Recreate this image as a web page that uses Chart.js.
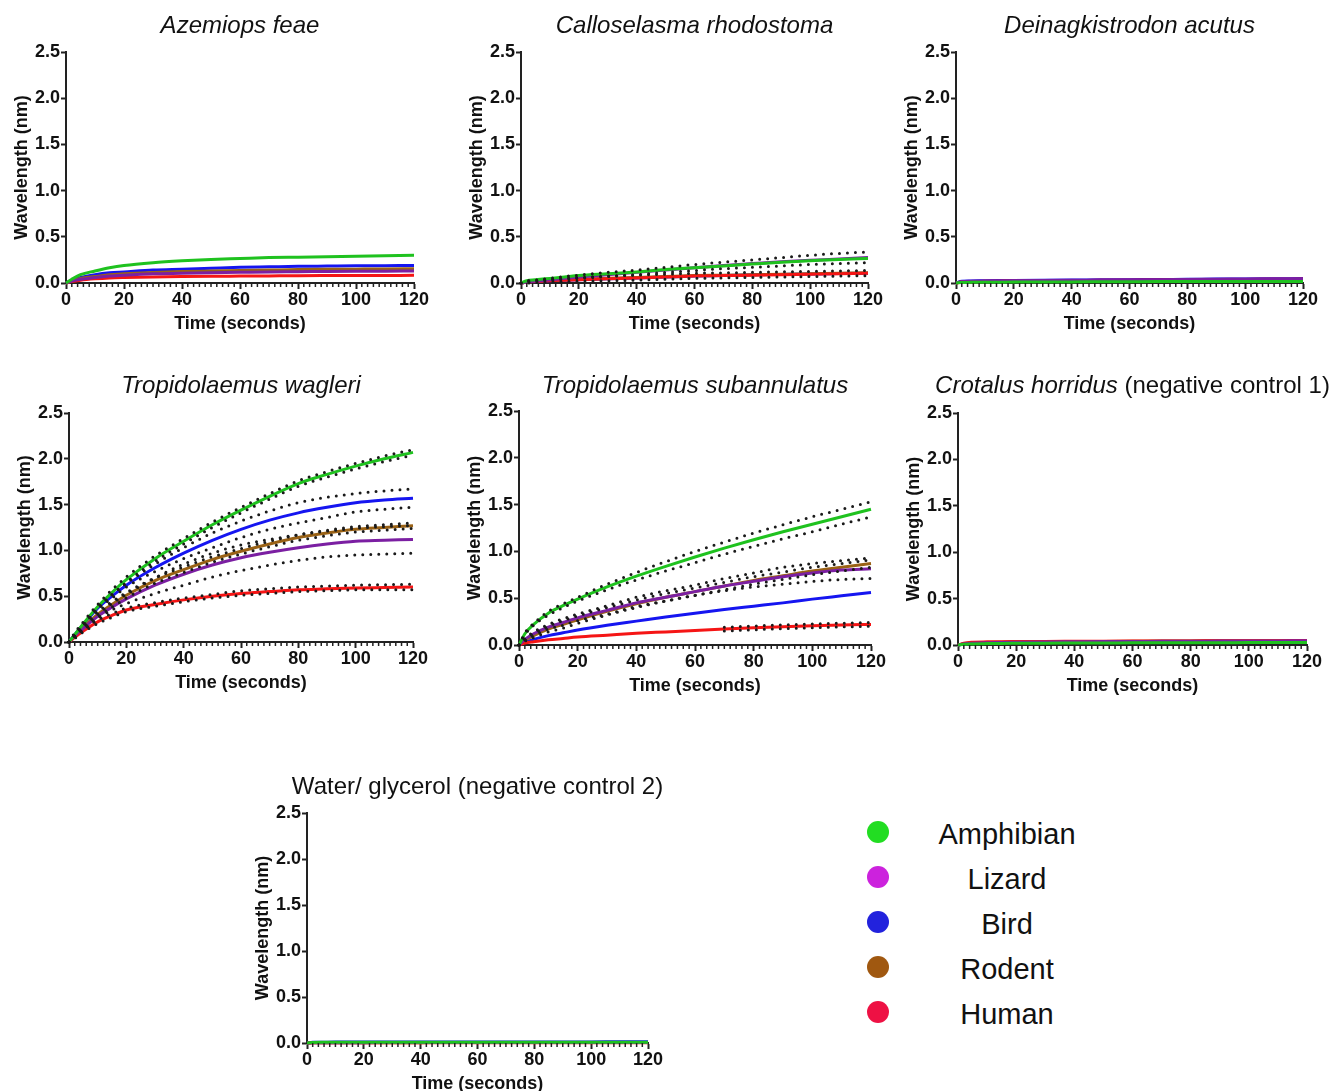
<!DOCTYPE html>
<html><head><meta charset="utf-8">
<script src="https://cdn.jsdelivr.net/npm/chart.js@4.4.1/dist/chart.umd.min.js"></script>
<style>
html,body{margin:0;padding:0;overflow:hidden;background:#fff;width:1331px;height:1091px;}
canvas{position:absolute;}
.lgText{position:absolute;width:200px;text-align:center;font:29px 'Liberation Sans',Arial,sans-serif;line-height:29px;color:#111;}
.lgDot{position:absolute;width:22px;height:22px;border-radius:50%;}
</style></head><body>
<script>
// ---------- data ----------
const time = [0, 2, 5, 10, 15, 20, 30, 40, 50, 60, 70, 80, 90, 100, 110, 120];
const xTicks = [0, 20, 40, 60, 80, 100, 120];
const yTicks = [0, 0.5, 1.0, 1.5, 2.0, 2.5];
const seriesNames = ['Amphibian', 'Lizard', 'Bird', 'Rodent', 'Human'];

// Azemiops feae
const azemAmphibian = [0,0.04,0.09,0.13,0.165,0.19,0.22,0.24,0.255,0.265,0.275,0.28,0.285,0.29,0.295,0.30];
const azemLizard    = [0,0.02,0.04,0.06,0.075,0.085,0.10,0.105,0.11,0.115,0.12,0.122,0.125,0.127,0.128,0.13];
const azemBird      = [0,0.03,0.06,0.09,0.11,0.12,0.14,0.15,0.16,0.17,0.175,0.18,0.183,0.186,0.188,0.19];
const azemRodent    = [0,0.02,0.05,0.07,0.09,0.10,0.115,0.125,0.13,0.135,0.14,0.145,0.148,0.15,0.152,0.155];
const azemHuman     = [0,0.015,0.03,0.045,0.055,0.06,0.066,0.07,0.073,0.075,0.077,0.079,0.08,0.081,0.082,0.083];

// Calloselasma rhodostoma
const callAmphibian = [0,0.025,0.035,0.05,0.065,0.08,0.10,0.12,0.145,0.165,0.185,0.205,0.225,0.24,0.255,0.265];
const callLizard    = [0,0.01,0.02,0.035,0.05,0.065,0.09,0.115,0.14,0.165,0.19,0.21,0.23,0.245,0.26,0.275];
const callBird      = [0,0.01,0.015,0.025,0.03,0.035,0.045,0.055,0.065,0.075,0.08,0.088,0.093,0.098,0.102,0.106];
const callRodent    = [0,0.01,0.02,0.03,0.035,0.04,0.05,0.06,0.07,0.08,0.085,0.09,0.095,0.10,0.105,0.11];
const callHuman     = [0,0.01,0.015,0.025,0.03,0.035,0.045,0.055,0.065,0.075,0.08,0.085,0.09,0.095,0.10,0.105];
const callHighUpper = [0,0.02,0.03,0.05,0.07,0.085,0.115,0.14,0.17,0.20,0.225,0.25,0.275,0.30,0.32,0.335];
const callHighLower = [0,0.01,0.02,0.03,0.04,0.05,0.07,0.09,0.115,0.135,0.155,0.17,0.185,0.20,0.21,0.22];
const callLowUpper  = [0,0.02,0.03,0.04,0.05,0.06,0.075,0.085,0.095,0.105,0.11,0.115,0.12,0.125,0.13,0.135];
const callLowLower  = [0,0.0,0.005,0.01,0.015,0.02,0.025,0.03,0.04,0.05,0.055,0.06,0.065,0.07,0.075,0.08];

// Deinagkistrodon acutus
const deinAmphibian = [0,0.005,0.007,0.008,0.009,0.01,0.011,0.012,0.013,0.014,0.015,0.015,0.016,0.016,0.017,0.017];
const deinLizard    = [0,0.015,0.02,0.022,0.024,0.026,0.028,0.03,0.032,0.034,0.036,0.039,0.041,0.043,0.045,0.047];
const deinBird      = [0,0.02,0.022,0.025,0.027,0.028,0.03,0.032,0.034,0.036,0.038,0.04,0.042,0.044,0.046,0.048];
const deinRodent    = [0,0.01,0.012,0.015,0.017,0.019,0.021,0.023,0.025,0.026,0.027,0.028,0.03,0.031,0.032,0.033];
const deinHuman     = [0,0.01,0.015,0.018,0.02,0.022,0.025,0.027,0.029,0.031,0.033,0.035,0.037,0.039,0.04,0.042];

// Tropidolaemus wagleri
const wagAmphibian = [0,0.08,0.20,0.385,0.54,0.68,0.91,1.10,1.28,1.44,1.59,1.73,1.83,1.92,2.00,2.07];
const wagLizard    = [0,0.07,0.15,0.28,0.38,0.47,0.62,0.74,0.84,0.92,0.98,1.03,1.07,1.10,1.11,1.12];
const wagBird      = [0,0.08,0.19,0.37,0.50,0.62,0.81,0.97,1.11,1.23,1.33,1.41,1.47,1.52,1.55,1.57];
const wagRodent    = [0,0.07,0.16,0.30,0.41,0.51,0.67,0.79,0.90,0.99,1.07,1.14,1.19,1.23,1.25,1.27];
const wagHuman     = [0,0.05,0.12,0.22,0.29,0.35,0.41,0.46,0.50,0.53,0.55,0.57,0.58,0.59,0.595,0.60];
const wagAmphibianUpper = [0,0.10,0.22,0.41,0.57,0.71,0.94,1.13,1.31,1.47,1.62,1.76,1.86,1.95,2.03,2.10];
const wagAmphibianLower = [0,0.06,0.18,0.36,0.51,0.65,0.88,1.07,1.25,1.41,1.56,1.70,1.80,1.89,1.97,2.04];
const wagBirdUpper = [0,0.08,0.19,0.38,0.52,0.64,0.85,1.03,1.19,1.32,1.43,1.52,1.58,1.62,1.65,1.67];
const wagBirdLower = [0,0.08,0.19,0.36,0.48,0.60,0.77,0.91,1.03,1.14,1.23,1.30,1.36,1.42,1.45,1.47];
const wagRodentUpper = [0,0.08,0.18,0.33,0.44,0.54,0.70,0.82,0.93,1.02,1.10,1.17,1.22,1.26,1.28,1.30];
const wagRodentLower = [0,0.06,0.14,0.27,0.38,0.48,0.64,0.76,0.87,0.96,1.04,1.11,1.16,1.20,1.22,1.24];
const wagLizardUpper = [0,0.07,0.16,0.30,0.42,0.52,0.70,0.85,0.97,1.06,1.12,1.17,1.21,1.24,1.26,1.27];
const wagLizardLower = [0,0.07,0.14,0.26,0.35,0.42,0.53,0.62,0.71,0.78,0.84,0.89,0.93,0.95,0.96,0.97];
const wagHumanUpper = [0,0.06,0.13,0.24,0.31,0.37,0.43,0.48,0.52,0.56,0.58,0.60,0.61,0.62,0.625,0.63];
const wagHumanLower = [0,0.04,0.11,0.20,0.27,0.33,0.39,0.44,0.48,0.51,0.53,0.55,0.56,0.57,0.57,0.57];

// Tropidolaemus subannulatus
const subAmphibian = [0,0.12,0.22,0.34,0.42,0.49,0.62,0.735,0.84,0.94,1.035,1.125,1.21,1.29,1.37,1.45];
const subLizard    = [0,0.06,0.12,0.19,0.24,0.29,0.37,0.45,0.51,0.57,0.63,0.68,0.73,0.77,0.80,0.815];
const subBird      = [0,0.03,0.06,0.10,0.13,0.16,0.21,0.255,0.30,0.34,0.38,0.415,0.45,0.49,0.525,0.56];
const subRodent    = [0,0.05,0.10,0.17,0.22,0.27,0.36,0.44,0.51,0.57,0.63,0.69,0.74,0.79,0.83,0.87];
const subHuman     = [0,0.02,0.035,0.055,0.07,0.085,0.105,0.125,0.14,0.155,0.17,0.183,0.195,0.205,0.213,0.22];
const subAmphibianUpper = [0,0.13,0.23,0.36,0.44,0.51,0.65,0.775,0.89,1.00,1.10,1.195,1.285,1.37,1.45,1.53];
const subAmphibianLower = [0,0.11,0.21,0.32,0.40,0.47,0.59,0.695,0.79,0.88,0.97,1.055,1.135,1.21,1.29,1.37];
const subRodentUpper = [0,0.06,0.12,0.20,0.26,0.31,0.40,0.48,0.55,0.61,0.67,0.73,0.78,0.83,0.87,0.91];
const subRodentLower = [0,0.04,0.08,0.14,0.18,0.23,0.32,0.40,0.47,0.53,0.59,0.65,0.70,0.75,0.79,0.83];
const subLizardUpper = [0,0.07,0.14,0.22,0.28,0.33,0.42,0.51,0.58,0.64,0.71,0.77,0.83,0.87,0.90,0.93];
const subLizardLower = [0,0.05,0.10,0.17,0.21,0.26,0.33,0.41,0.47,0.53,0.58,0.62,0.65,0.68,0.70,0.71];
const subHumanUpper = [null,null,null,null,null,null,null,null,null,null,0.19,0.203,0.215,0.225,0.233,0.24];
const subHumanLower = [null,null,null,null,null,null,null,null,null,null,0.15,0.163,0.175,0.185,0.193,0.20];

// Crotalus horridus (negative control 1)
const crotAmphibian = [0,0.008,0.012,0.015,0.017,0.018,0.02,0.021,0.022,0.023,0.024,0.025,0.025,0.026,0.026,0.027];
const crotLizard    = [0,0.01,0.018,0.025,0.028,0.03,0.033,0.035,0.037,0.038,0.04,0.041,0.042,0.043,0.044,0.045];
const crotBird      = [0,0.01,0.016,0.022,0.025,0.027,0.03,0.032,0.034,0.035,0.036,0.037,0.038,0.039,0.04,0.04];
const crotRodent    = [0,0.012,0.02,0.027,0.03,0.032,0.035,0.037,0.039,0.041,0.043,0.044,0.045,0.046,0.047,0.048];
const crotHuman     = [0,0.02,0.03,0.034,0.036,0.037,0.039,0.04,0.041,0.042,0.043,0.044,0.045,0.046,0.047,0.048];

// Water/ glycerol (negative control 2)
const waterAmphibian = [0,0.006,0.007,0.007,0.008,0.008,0.008,0.008,0.009,0.009,0.009,0.009,0.009,0.009,0.009,0.009];
const waterLizard    = [0,0.003,0.004,0.004,0.004,0.004,0.005,0.005,0.005,0.005,0.005,0.005,0.005,0.005,0.005,0.005];
const waterBird      = [0,0.008,0.009,0.01,0.01,0.01,0.011,0.011,0.011,0.012,0.012,0.012,0.012,0.012,0.013,0.013];
const waterRodent    = [0,0.003,0.003,0.004,0.004,0.004,0.004,0.004,0.005,0.005,0.005,0.005,0.005,0.005,0.005,0.005];
const waterHuman     = [0,0.002,0.003,0.003,0.003,0.004,0.004,0.004,0.004,0.004,0.004,0.004,0.004,0.004,0.004,0.004];

// ---------- styles ----------
const lineColors = ['#1fc21f', '#7b1fa2', '#1515f0', '#9a6215', '#f51515'];
const legendColors = ['#22dd22', '#cc22dd', '#2222dd', '#a05810', '#ee1144'];
const FONT = "'Liberation Sans', Arial, sans-serif";

const panels = [
  {title:[['Azemiops feae','italic']], axisX:66, right:414, top:52, bottom:283, titleY:26,
   series:[azemAmphibian, azemLizard, azemBird, azemRodent, azemHuman], bands:[]},
  {title:[['Calloselasma rhodostoma','italic']], axisX:521, right:868, top:52, bottom:283, titleY:26,
   series:[callAmphibian, callLizard, callBird, callRodent, callHuman],
   bands:[callHighUpper, callHighLower, callLowUpper, callLowLower]},
  {title:[['Deinagkistrodon acutus','italic']], axisX:956, right:1303, top:52, bottom:283, titleY:26,
   series:[deinAmphibian, deinLizard, deinBird, deinRodent, deinHuman], bands:[]},
  {title:[['Tropidolaemus wagleri','italic']], axisX:69, right:413, top:413, bottom:642, titleY:386,
   series:[wagAmphibian, wagLizard, wagBird, wagRodent, wagHuman],
   bands:[wagAmphibianUpper, wagAmphibianLower, wagBirdUpper, wagBirdLower, wagRodentUpper, wagRodentLower, wagLizardUpper, wagLizardLower, wagHumanUpper, wagHumanLower]},
  {title:[['Tropidolaemus subannulatus','italic']], axisX:519, right:871, top:411, bottom:645, titleY:386,
   series:[subAmphibian, subLizard, subBird, subRodent, subHuman],
   bands:[subAmphibianUpper, subAmphibianLower, subRodentUpper, subRodentLower, subLizardUpper, subLizardLower, subHumanUpper, subHumanLower]},
  {title:[['Crotalus horridus','italic'],[' (negative control 1)','normal']], axisX:958, right:1307, top:413, bottom:645, titleY:386,
   series:[crotAmphibian, crotLizard, crotBird, crotRodent, crotHuman], bands:[]},
  {title:[['Water/ glycerol (negative control 2)','normal']], axisX:307, right:648, top:813, bottom:1043, titleY:787,
   series:[waterAmphibian, waterLizard, waterBird, waterRodent, waterHuman], bands:[]}
];

// draw order: Amphibian on top, then Lizard, Human, Rodent, Bird
const lineOrder = [0, 1, 4, 3, 2];

const minorTicks = {
  id: 'minorTicks',
  afterDraw(chart) {
    const xs = chart.scales.x, ctx = chart.ctx, y0 = chart.chartArea.bottom;
    ctx.save();
    ctx.strokeStyle = '#222'; ctx.lineWidth = 1.5;
    for (let t = 2; t < 120; t += 2) {
      if (t % 20 === 0) continue;
      const x = xs.getPixelForValue(t);
      ctx.beginPath(); ctx.moveTo(x, y0); ctx.lineTo(x, y0 + 4); ctx.stroke();
    }
    ctx.restore();
  }
};

const panelTitle = {
  id: 'panelTitle',
  afterDraw(chart, args, opts) {
    const ctx = chart.ctx;
    const parts = opts.parts;
    const cx = (chart.chartArea.left + chart.chartArea.right) / 2;
    ctx.save();
    ctx.fillStyle = '#111';
    ctx.textBaseline = 'middle';
    ctx.textAlign = 'left';
    let total = 0;
    const widths = parts.map(p => { ctx.font = p[1] + ' 24px ' + FONT; const w = ctx.measureText(p[0]).width; total += w; return w; });
    let x = cx - total / 2;
    parts.forEach((p, i) => { ctx.font = p[1] + ' 24px ' + FONT; ctx.fillText(p[0], x, opts.y); x += widths[i]; });
    ctx.restore();
  }
};

const toPts = arr => time.map((t, i) => ({x: t, y: arr[i]}));

panels.forEach(p => {
  const left = p.axisX - 66, top = p.top - 50;
  const w = p.right + 24 - left, h = p.bottom + 56 - top;
  const c = document.createElement('canvas');
  c.width = w; c.height = h;
  c.style.left = left + 'px'; c.style.top = top + 'px';
  c.style.width = w + 'px'; c.style.height = h + 'px';
  document.body.appendChild(c);

  const datasets = [];
  p.bands.forEach(b => datasets.push({
    data: toPts(b), borderColor: '#1a1a1a', borderWidth: 3, borderDash: [0, 8],
    borderCapStyle: 'round', pointRadius: 0, cubicInterpolationMode: 'monotone', clip: 6, spanGaps: false
  }));
  lineOrder.forEach(k => datasets.push({
    label: seriesNames[k], data: toPts(p.series[k]), borderColor: lineColors[k], borderWidth: 3,
    pointRadius: 0, cubicInterpolationMode: 'monotone', clip: 6
  }));

  new Chart(c, {
    type: 'line',
    data: { datasets },
    plugins: [minorTicks, panelTitle],
    options: {
      responsive: false, animation: false, devicePixelRatio: 1,
      layout: { padding: { left: 0, right: 24, top: 50, bottom: 0 } },
      plugins: {
        legend: { display: false }, tooltip: { enabled: false },
        panelTitle: { parts: p.title, y: p.titleY - top }
      },
      scales: {
        x: {
          type: 'linear', min: 0, max: 120,
          afterBuildTicks: s => { s.ticks = xTicks.map(v => ({value: v})); },
          afterFit: s => { s.height = 56; s.paddingLeft = 0; s.paddingRight = 0; },
          ticks: { autoSkip: false, maxRotation: 0, padding: 0, color: '#111',
                   font: { family: FONT, size: 18, weight: 'bold' }, callback: v => String(v) },
          grid: { display: true, drawOnChartArea: false, drawTicks: true, tickLength: 6, tickWidth: 2, tickColor: '#222' },
          border: { display: true, color: '#222', width: 2 },
          title: { display: true, text: 'Time (seconds)', color: '#111', padding: { top: 0, bottom: 4 },
                   font: { family: FONT, size: 18, weight: 'bold', lineHeight: 1.2 } }
        },
        y: {
          type: 'linear', min: 0, max: 2.5,
          afterBuildTicks: s => { s.ticks = yTicks.map(v => ({value: v})); },
          afterFit: s => { s.width = 66; s.paddingTop = 0; s.paddingBottom = 0; },
          ticks: { padding: 1, color: '#111', font: { family: FONT, size: 18, weight: 'bold' },
                   callback: v => Number(v).toFixed(1) },
          grid: { display: true, drawOnChartArea: false, drawTicks: true, tickLength: 5, tickWidth: 2, tickColor: '#222' },
          border: { display: true, color: '#222', width: 2 },
          title: { display: true, text: 'Wavelength (nm)', color: '#111', padding: { top: 11, bottom: 0 },
                   font: { family: FONT, size: 18, weight: 'bold', lineHeight: 1.2 } }
        }
      }
    }
  });
});

// ---------- legend ----------
const legendCenters = [832, 877, 922, 967, 1012];
seriesNames.forEach((name, i) => {
  const d = document.createElement('div');
  d.className = 'lgDot';
  d.style.background = legendColors[i];
  d.style.left = (878 - 11) + 'px';
  d.style.top = (legendCenters[i] - 11) + 'px';
  document.body.appendChild(d);
  const t = document.createElement('div');
  t.className = 'lgText';
  t.textContent = name;
  t.style.left = (1007 - 100) + 'px';
  t.style.top = (legendCenters[i] + 2 - 14) + 'px';
  document.body.appendChild(t);
});
</script>
</body></html>
